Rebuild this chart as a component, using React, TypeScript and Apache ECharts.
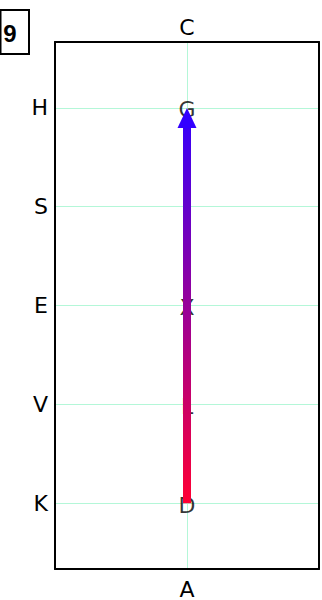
import React, { useEffect, useRef } from "react";
import * as echarts from "echarts";

const yTickLabels = ["K", "V", "E", "S", "H"];
const bottomLabel = "A";
const topLabel = "C";
const pointNames = ["D", "L", "X", "G"];
const pointX = [0, 0, 0, 0];
const pointY = [0, 1, 2, 4];
const arrowStart = [0, 0];
const arrowEnd = [0, 4];
const badge = "9";

export default function App() {
  const ref = useRef<HTMLDivElement>(null);
  useEffect(() => {
    if (!ref.current) return;
    const chart = echarts.init(ref.current, null, { renderer: "svg" });
    const font = "DejaVu Sans";
    const gridColor = "#b4f7d8";
    const border = { show: true, onZero: false, lineStyle: { color: "#000", width: 2 } };
    const pts = pointNames.map((n, i) => ({ name: n, value: [pointX[i], pointY[i]] }));
    const yMin = -2 / 3;
    const yMax = yTickLabels.length - 1 + 2 / 3;
    const yFmt = (v: number) => {
      const r = Math.round(v);
      return Math.abs(v - r) < 1e-6 && yTickLabels[r] !== undefined ? yTickLabels[r] : "";
    };
    chart.setOption({
      animation: false,
      grid: { left: 55, right: 2, top: 42, bottom: 30, show: false },
      xAxis: [
        {
          type: "value",
          min: -1,
          max: 1,
          interval: 1,
          position: "bottom",
          axisLine: border,
          axisTick: { show: false },
          splitLine: { show: true, showMinLine: false, showMaxLine: false, lineStyle: { color: gridColor, width: 1 } },
          axisLabel: {
            formatter: (v: number) => (v === 0 ? bottomLabel : ""),
            color: "#000",
            fontSize: 22,
            fontFamily: font,
            margin: 9,
          },
        },
        {
          type: "value",
          min: -1,
          max: 1,
          interval: 1,
          position: "top",
          axisLine: border,
          axisTick: { show: false },
          splitLine: { show: false },
          axisLabel: {
            formatter: (v: number) => (v === 0 ? topLabel : ""),
            color: "#000",
            fontSize: 22,
            fontFamily: font,
            margin: 4,
          },
        },
      ],
      yAxis: [
        {
          type: "value",
          min: yMin,
          max: yMax,
          position: "left",
          axisLine: border,
          axisTick: { show: false },
          splitLine: { show: true, showMinLine: false, showMaxLine: false, lineStyle: { color: gridColor, width: 1 } },
          axisLabel: {
            formatter: yFmt,
            showMinLabel: false,
            showMaxLabel: false,
            color: "#000",
            fontSize: 22,
            fontFamily: font,
            margin: 7,
          },
        },
        {
          type: "value",
          min: yMin,
          max: yMax,
          position: "right",
          axisLine: border,
          axisTick: { show: false },
          splitLine: { show: false },
          axisLabel: { show: false },
        },
      ],
      graphic: [
        {
          type: "rect",
          z: 10,
          shape: { x: 0.5, y: 10, width: 28.5, height: 44 },
          style: { fill: "#fff", stroke: "#000", lineWidth: 2 },
        },
        {
          type: "text",
          z: 11,
          x: 10,
          y: 33,
          style: {
            text: badge,
            fontSize: 24,
            fontWeight: "bold",
            fontFamily: "Liberation Sans",
            fill: "#000",
            align: "center",
            verticalAlign: "middle",
          },
        },
      ],
      series: [
        {
          type: "scatter",
          z: 2,
          symbolSize: 0,
          data: pts,
          label: {
            show: true,
            position: "inside",
            offset: [0, 2],
            formatter: (p: any) => p.name,
            color: "#000",
            fontSize: 22,
            fontFamily: font,
          },
        },
        {
          type: "custom",
          z: 5,
          data: [[arrowStart[0], arrowStart[1], arrowEnd[0], arrowEnd[1]]],
          encode: { x: [0, 2], y: [1, 3] },
          renderItem: (params: any, api: any) => {
            const p0 = api.coord([api.value(0), api.value(1)]);
            const p1 = api.coord([api.value(2), api.value(3)]);
            const head = 20;
            const half = 9.5;
            const grad = new echarts.graphic.LinearGradient(
              0,
              p0[1],
              0,
              p1[1],
              [
                { offset: 0, color: "#ff0033" },
                { offset: 1, color: "#3000ff" },
              ],
              true
            );
            return {
              type: "group",
              children: [
                {
                  type: "line",
                  shape: { x1: p0[0], y1: p0[1], x2: p1[0], y2: p1[1] + head - 2 },
                  style: { stroke: grad, lineWidth: 8, lineCap: "butt" },
                },
                {
                  type: "polygon",
                  shape: {
                    points: [
                      [p1[0], p1[1]],
                      [p1[0] - half, p1[1] + head],
                      [p1[0] + half, p1[1] + head],
                    ],
                  },
                  style: { fill: "#3300ff" },
                },
              ],
            };
          },
        },
      ],
    });
    return () => chart.dispose();
  }, []);
  return (
    <div
      ref={ref}
      style={{ position: "absolute", left: 0, top: 0, width: 322, height: 600 }}
    />
  );
}
